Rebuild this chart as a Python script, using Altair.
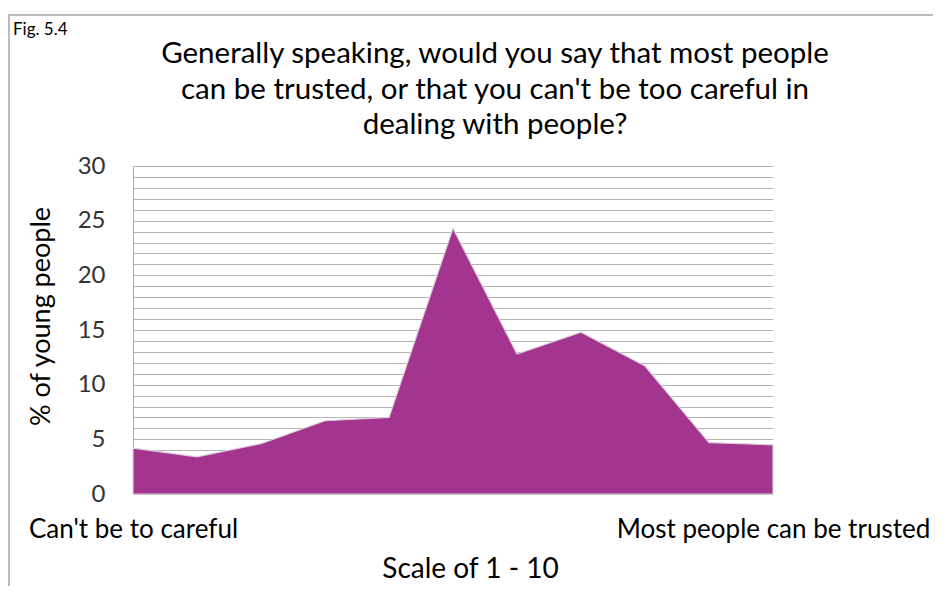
import altair as alt
import pandas as pd

# Data
scale_points = [0, 1, 2, 3, 4, 5, 6, 7, 8, 9, 10]
pct_young = [4.2, 3.4, 4.6, 6.7, 7.0, 24.3, 12.8, 14.8, 11.7, 4.7, 4.5]
end_labels = ["Can't be to careful", "Most people can be trusted"]

title_lines = [
    "Generally speaking, would you say that most people",
    "can be trusted, or that you can't be too careful in",
    "dealing with people?",
]
fig_label = "Fig. 5.4"

df = pd.DataFrame({"scale": scale_points, "pct": pct_young})

FONT = "Lato"
W, H = 640, 328

label_expr = (
    "datum.value == 0 ? \"" + end_labels[0].replace("'", "\\'") + "\" : '"
    + end_labels[1] + "'"
)

x_enc = alt.X(
    "scale:Q",
    scale=alt.Scale(domain=[0, 10], nice=False, zero=False),
    axis=alt.Axis(
        values=[0, 10],
        labelExpr=label_expr,
        title="Scale of 1 - 10",
        titleFont=FONT,
        titleFontSize=28,
        titleFontWeight="normal",
        titleColor="#000",
        titlePadding=13,
        titleX=337,
        labelFont=FONT,
        labelFontSize=26,
        labelColor="#000",
        labelPadding=22,
        labelLimit=600,
        labelOverlap=False,
        labelBound=False,
        labelFlush=False,
        ticks=False,
        domain=False,
        grid=False,
    ),
)

y_enc = alt.Y(
    "pct:Q",
    scale=alt.Scale(domain=[0, 30], nice=False),
    axis=alt.Axis(
        values=list(range(0, 31)),
        labelExpr="datum.value % 5 == 0 ? datum.label : ''",
        title="% of young people",
        titleFont=FONT,
        titleFontSize=27,
        titleFontWeight="normal",
        titleColor="#000",
        titlePadding=22,
        titleY=150,
        labelFont=FONT,
        labelFontSize=24,
        labelColor="#333",
        labelPadding=28,
        labelOverlap=False,
        ticks=False,
        domain=True,
        domainColor="#aaa",
        grid=True,
        gridColor="#b5b5b5",
        gridWidth=1,
    ),
)

area = alt.Chart(df).mark_area(
    color="#A3358F", opacity=1, stroke="#ddd0dd", strokeWidth=1.2
).encode(x=x_enc, y=y_enc)

fig_text = alt.Chart(pd.DataFrame({"t": [fig_label]})).mark_text(
    font=FONT, fontSize=17, align="left", baseline="top", color="#000"
).encode(text="t:N", x=alt.value(-120), y=alt.value(-144))

title_text = alt.Chart(pd.DataFrame({"a": [0]})).mark_text(
    font=FONT, fontSize=29.5, align="center", baseline="middle", color="#000",
    lineHeight=35.5, text=title_lines,
).encode(x=alt.value(W / 2 + 42), y=alt.value(-112))

border = alt.Chart(pd.DataFrame({"a": [0]})).mark_rect(
    fill=None, stroke="#bbb", strokeWidth=2
).encode(x=alt.value(-124), x2=alt.value(W + 200), y=alt.value(-151), y2=alt.value(H + 200))

chart = alt.layer(border, area, fig_text, title_text).properties(
    width=W,
    height=H,
    autosize=alt.AutoSizeParams(type="none"),
    padding={"left": 125, "top": 158, "right": 160, "bottom": 92},
).configure_view(stroke=None)

chart.save("out.html", embed_options={"renderer": "svg", "actions": False})
